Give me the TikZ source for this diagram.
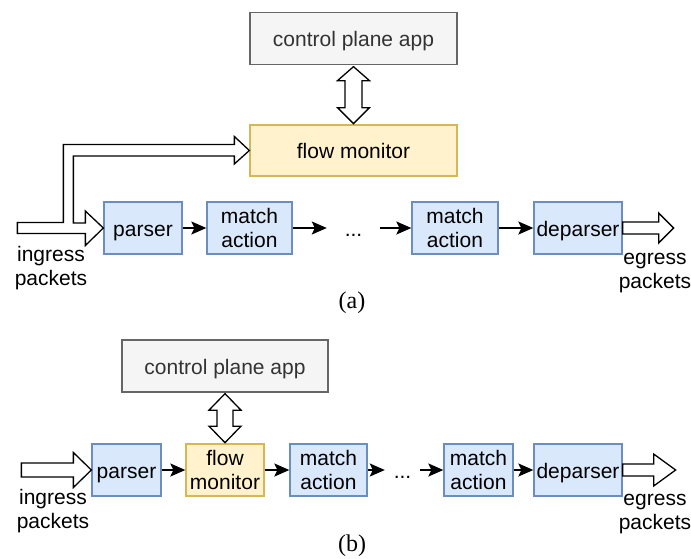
\documentclass[tikz,border=0pt]{standalone}
\usepackage{fontspec}
\setmainfont{Liberation Sans}
\newfontfamily\captionfont{Liberation Serif}
\usetikzlibrary{arrows.meta,calc}

\definecolor{stageFill}{HTML}{DAE8FC}
\definecolor{stageLine}{HTML}{6C8EBF}
\definecolor{monFill}{HTML}{FFF2CC}
\definecolor{monLine}{HTML}{D6B656}
\definecolor{appFill}{HTML}{F5F5F5}
\definecolor{appLine}{HTML}{666666}
\definecolor{appText}{HTML}{333333}

\begin{document}
\begin{tikzpicture}[x=1pt,y=-1pt,
  every node/.style={font=\fontsize{21}{23.5}\selectfont, inner sep=0pt, align=center},
  box/.style={draw, line width=1.3pt, minimum height=52pt},
  oneline/.style={text height=20.5pt, text depth=4pt},
  stagebox/.style={box, fill=stageFill, draw=stageLine},
  monbox/.style={box, fill=monFill, draw=monLine},
  appbox/.style={box, oneline, fill=appFill, draw=appLine, text=appText},
  flow/.style={line width=1.6pt, -{Stealth[length=15pt,width=13pt,inset=3pt]}},
  blockarrow/.style={draw=black, fill=white, line width=1.3pt, line join=miter},
  dotsnode/.style={minimum height=52pt, text height=20.5pt, text depth=4pt},
  label/.style={},
  caption/.style={font=\captionfont\fontsize{24}{28}\selectfont}
]
\useasboundingbox (0,0) rectangle (691,558);

% ---------------- (a) monitor beside the pipeline ----------------
\node[appbox, minimum width=207pt] (appA) at (353.5,38.5) {control plane app};
\node[monbox, oneline, minimum width=207pt, minimum height=51pt] (monA) at (353.5,150.5) {flow monitor};

\node[stagebox, oneline, minimum width=78pt] (parA) at (143,228) {parser};
\node[stagebox, minimum width=85pt] (maA1) at (249.5,228) {match\\action};
\node[dotsnode, minimum width=53pt] (dotA) at (353.5,228) {...};
\node[stagebox, minimum width=86pt] (maA2) at (455,228) {match\\action};
\node[stagebox, oneline, minimum width=88pt] (depA) at (578,228) {deparser};

\node[label] (inA) at (51,269) {\strut ingress\\packets\strut};
\node[label] (outA) at (655,272) {\strut egress\\packets\strut};
\node[caption] (capA) at (352,303) {(a)};

\draw[flow] (parA.east) -- (maA1.west);
\draw[flow] (maA1.east) -- (dotA.west);
\draw[flow] (dotA.east) -- (maA2.west);
\draw[flow] (maA2.east) -- (depA.west);

% app <-> monitor
\draw[blockarrow] (appA.south) ++(0,1.5) -- ++(16,14) -- ++(-7.5,0) -- ++(0,27)
  -- ++(7.5,0) -- ++(-16,16) -- ++(-16,-16) -- ++(7.5,0) -- ++(0,-27)
  -- ++(-7.5,0) -- cycle;

% ingress: split into the monitor and the parser
\draw[blockarrow] (parA.west) -- ++(-18,17.5) -- ++(0,-12) -- ++(-68,0)
  -- ++(0,-11) -- ++(46,0) -- ++(0,-78) -- ++(171,0) -- ++(0,-8)
  -- (monA.west) -- ++(-15,13.5) -- ++(0,-8) -- ++(-161,0) -- ++(0,67)
  -- ++(12,0) -- ++(0,-12) -- cycle;

% egress
\draw[blockarrow] (depA.east) ++(0,-6) -- ++(36,0) -- ++(0,-9) -- ++(15,15)
  -- ++(-15,15) -- ++(0,-9) -- ++(-36,0) -- cycle;

% ---------------- (b) monitor inside the pipeline ----------------
\node[appbox, minimum width=206pt] (appB) at (225,366) {control plane app};

\node[stagebox, oneline, minimum width=69pt] (parB) at (126.5,470) {parser};
\node[monbox, minimum width=78pt] (monB) at (225,470) {flow\\monitor};
\node[stagebox, minimum width=77pt] (maB1) at (328.5,470) {match\\action};
\node[dotsnode, minimum width=35pt] (dotB) at (402.5,470) {...};
\node[stagebox, minimum width=69pt] (maB2) at (478.5,470) {match\\action};
\node[stagebox, oneline, minimum width=88pt] (depB) at (578,470) {deparser};

\node[label] (inB) at (53,512) {\strut ingress\\packets\strut};
\node[label] (outB) at (655,513) {\strut egress\\packets\strut};
\node[caption] (capB) at (352,546) {(b)};

\draw[flow] (parB.east) -- (monB.west);
\draw[flow] (monB.east) -- (maB1.west);
\draw[flow] (maB1.east) -- (dotB.west);
\draw[flow] (dotB.east) -- (maB2.west);
\draw[flow] (maB2.east) -- (depB.west);

% app <-> monitor
\draw[blockarrow] (appB.south) ++(0,1) -- ++(16,16.5) -- ++(-8,0) -- ++(0,16)
  -- ++(8,0) -- ++(-16,16.5) -- ++(-16,-16.5) -- ++(8,0) -- ++(0,-16)
  -- ++(-8,0) -- cycle;

% ingress
\draw[blockarrow] (parB.west) -- ++(-18,17.5) -- ++(0,-10.5) -- ++(-52,0)
  -- ++(0,-14) -- ++(52,0) -- ++(0,-10.5) -- cycle;

% egress
\draw[blockarrow] (depB.east) ++(0,-6) -- ++(31,0) -- ++(0,-10) -- ++(22,16)
  -- ++(-22,16) -- ++(0,-10) -- ++(-31,0) -- cycle;
\end{tikzpicture}
\end{document}
